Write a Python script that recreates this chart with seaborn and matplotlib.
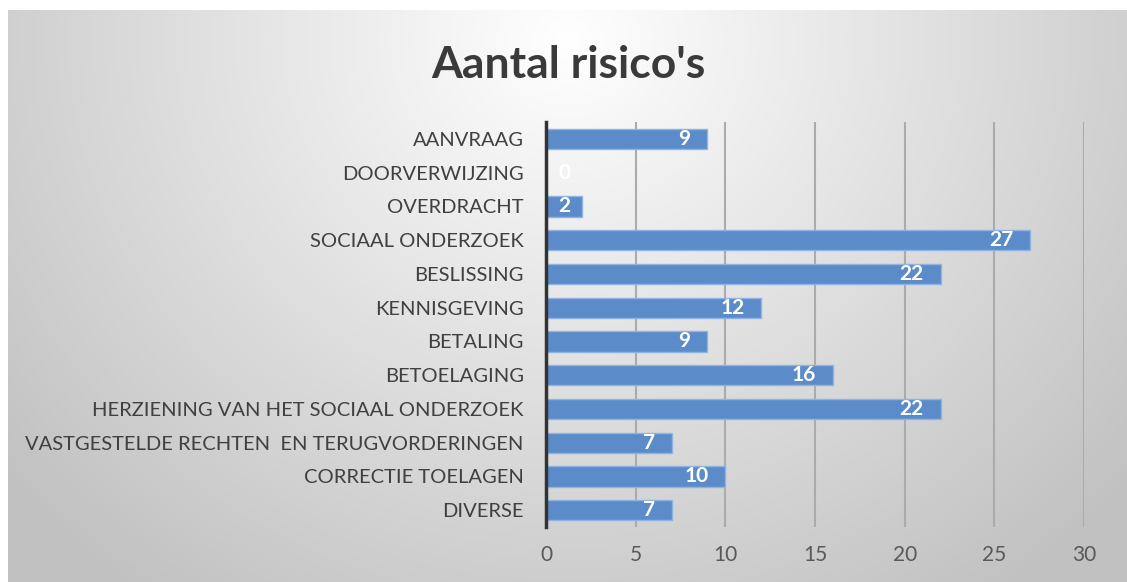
import matplotlib.pyplot as plt
import numpy as np
import pandas as pd
import seaborn as sns

categories = ['AANVRAAG', 'DOORVERWIJZING', 'OVERDRACHT', 'SOCIAAL ONDERZOEK', 'BESLISSING',
              'KENNISGEVING', 'BETALING', 'BETOELAGING', 'HERZIENING VAN HET SOCIAAL ONDERZOEK',
              'VASTGESTELDE RECHTEN  EN TERUGVORDERINGEN', 'CORRECTIE TOELAGEN', 'DIVERSE']
counts = [9, 0, 2, 27, 22, 12, 9, 16, 22, 7, 10, 7]
x_ticks = [0, 5, 10, 15, 20, 25, 30]

df = pd.DataFrame({'categorie': categories, 'aantal': counts})

sns.set_style('white')
plt.rcParams['font.family'] = ['Lato', 'DejaVu Sans']

fig = plt.figure(figsize=(11.27, 5.82), dpi=100)
fig.patch.set_facecolor('white')

# background gradient panel (Excel style)
bg = fig.add_axes([8 / 1127, 0, 1 - 8 / 1127, 1 - 10 / 582])
h, w = 300, 600
yy, xx = np.mgrid[0:h, 0:w]
dx = (xx - w * 0.5) / (w * 0.5)
dy = (yy - h * 0.05) / h
r = np.sqrt(dx ** 2 + (dy * 1.1) ** 2)
grad = 1.0 - 0.24 * np.clip(r, 0, 1.3) / 1.3
grad = np.clip(grad, 0, 1)
bg.imshow(np.dstack([grad] * 3), aspect='auto', interpolation='bilinear')
bg.set_axis_off()

ax = fig.add_axes([546 / 1127, 1 - 527 / 582, (1084 - 546) / 1127, (527 - 122) / 582])
ax.patch.set_alpha(0)

sns.barplot(data=df, y='categorie', x='aantal', ax=ax, color='#5B8BC9', width=0.6,
            edgecolor='#8FB4E3', linewidth=1.0, saturation=1, zorder=3)

# data labels: inside end, or from the base when the bar is too short
for i, v in enumerate(counts):
    if v >= 4:
        ax.annotate(str(v), xy=(v, i), xytext=(-12, 0), textcoords='offset points',
                    ha='right', va='center', color='white', fontsize=15, fontweight='bold',
                    zorder=6)
    else:
        ax.annotate(str(v), xy=(0, i), xytext=(9, 0), textcoords='offset points',
                    ha='left', va='center', color='white', fontsize=15, fontweight='bold',
                    zorder=6)

ax.set_xlim(0, 30)
ax.set_xticks(x_ticks)
ax.set_ylim(11.5, -0.5)
ax.grid(axis='x', color='#ABABAB', linewidth=1.5, zorder=0)
ax.set_axisbelow(True)
for s in ['top', 'right', 'bottom']:
    ax.spines[s].set_visible(False)
ax.spines['left'].set_color('#333333')
ax.spines['left'].set_linewidth(2.5)
ax.spines['left'].set_zorder(5)
ax.tick_params(axis='x', length=0, pad=13, labelsize=15, labelcolor='#595959')
ax.tick_params(axis='y', length=0, pad=16, labelsize=14.5, labelcolor='#404040')
ax.set_xlabel('')
ax.set_ylabel('')

fig.text(568 / 1127, 1 - 65 / 582, "Aantal risico's", ha='center', va='center',
         fontsize=32, fontweight='bold', color='#3A3A3A')

fig.savefig('out.png', dpi=100)
